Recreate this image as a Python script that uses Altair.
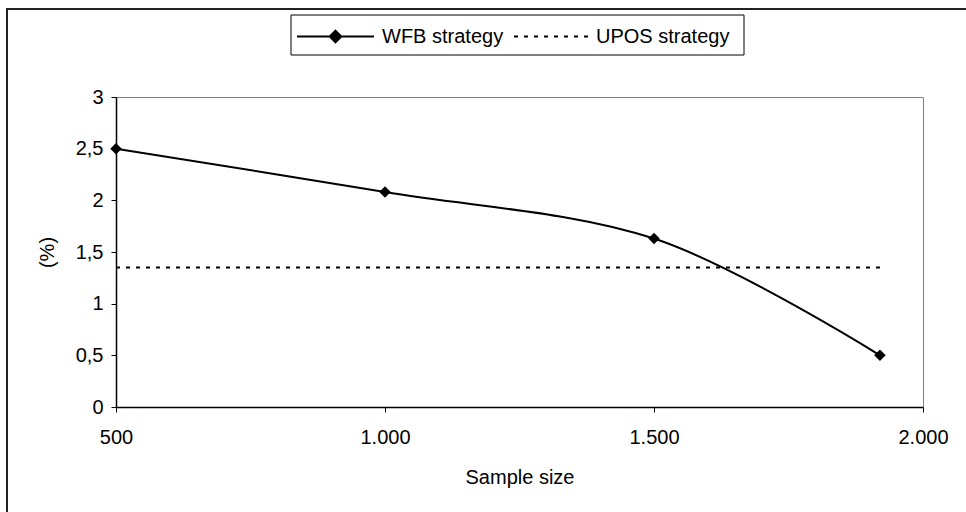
import altair as alt
import pandas as pd

# WFB strategy: error (%) against sample size
sample_size = [500, 1000, 1500, 1920]
wfb_pct = [2.5, 2.08, 1.63, 0.5]

# UPOS strategy: constant reference level over the same range
upos_size = [500, 1920]
upos_pct = [1.35, 1.35]

series_names = ["WFB strategy", "UPOS strategy"]
x_ticks = [500, 1000, 1500, 2000]
y_ticks = [0, 0.5, 1, 1.5, 2, 2.5, 3]

FONT = "Liberation Sans"
PLOT_W, PLOT_H = 807, 310
LINE_SYMBOL = 5929  # legend symbol area: sqrt gives the sample-line length
DOTTED = [4, 6]

wfb = pd.DataFrame({"size": sample_size, "pct": wfb_pct, "series": series_names[0]})
upos = pd.DataFrame({"size": upos_size, "pct": upos_pct, "series": series_names[1]})

x_enc = alt.X(
    "size:Q",
    scale=alt.Scale(domain=[500, 2000], nice=False, zero=False),
    axis=alt.Axis(
        values=x_ticks,
        title="Sample size",
        grid=False,
        labelExpr="replace(format(datum.value, ','), ',', '.')",
        labelFlush=False,
        labelOverlap=False,
        tickSize=5,
        labelPadding=15,
        titlePadding=20,
    ),
)
y_enc = alt.Y(
    "pct:Q",
    scale=alt.Scale(domain=[0, 3], nice=False),
    axis=alt.Axis(
        values=y_ticks,
        title="(%)",
        grid=False,
        labelExpr="replace(format(datum.value, '.1~f'), '.', ',')",
        tickSize=5,
        labelPadding=8,
        titlePadding=18,
    ),
)

legend_common = dict(
    title=None,
    orient="none",
    direction="horizontal",
    symbolSize=LINE_SYMBOL,
    symbolStrokeWidth=2,
    symbolStrokeColor="black",
    labelFontSize=20,
    labelFont=FONT,
    labelColor="black",
    padding=0,
    legendY=-100,
)

# outer frame around the whole figure
frame = (
    alt.Chart(pd.DataFrame({"k": [0]}))
    .mark_rect(fillOpacity=0, stroke="#222222", strokeWidth=2)
    .encode(x=alt.value(-109), x2=alt.value(1000), y=alt.value(-88), y2=alt.value(600))
)

# box that holds both legend entries
legend_box = (
    alt.Chart(pd.DataFrame({"k": [0]}))
    .mark_rect(fill="white", stroke="black", strokeWidth=1)
    .encode(x=alt.value(175), x2=alt.value(628), y=alt.value(-82), y2=alt.value(-42))
)

wfb_line = (
    alt.Chart(wfb)
    .mark_line(strokeWidth=2, interpolate="cardinal", color="black")
    .encode(
        x=x_enc,
        y=y_enc,
        stroke=alt.Stroke(
            "series:N",
            scale=alt.Scale(domain=[series_names[0]], range=["black"]),
            legend=alt.Legend(
                legendX=180,
                labelOffset=7,
                symbolType="M-1,0H1M0,-0.15L0.15,0L0,0.15L-0.15,0Z",
                symbolFillColor="black",
                **legend_common,
            ),
        ),
    )
)

upos_line = (
    alt.Chart(upos)
    .mark_line(strokeWidth=2, color="black")
    .encode(
        x="size:Q",
        y="pct:Q",
        strokeDash=alt.StrokeDash(
            "series:N",
            scale=alt.Scale(domain=[series_names[1]], range=[DOTTED]),
            legend=alt.Legend(
                legendX=397,
                labelOffset=4,
                symbolType="M-1,0H1",
                **legend_common,
            ),
        ),
    )
)

points = (
    alt.Chart(wfb)
    .mark_point(shape="diamond", filled=True, size=132, color="black", opacity=1)
    .encode(x="size:Q", y="pct:Q")
)

chart = (
    alt.layer(frame, legend_box, wfb_line, upos_line, points)
    .resolve_legend(stroke="independent", strokeDash="independent")
    .properties(
        width=PLOT_W,
        height=PLOT_H,
        autosize=alt.AutoSizeParams(type="none"),
        padding={"left": 116, "top": 97, "right": 43, "bottom": 105},
        background="white",
    )
    .configure_view(stroke="#808080", strokeWidth=1)
    .configure_axis(
        domainColor="black",
        domainWidth=1.5,
        tickColor="black",
        tickWidth=1,
        labelFont=FONT,
        labelFontSize=20,
        labelColor="black",
        titleFont=FONT,
        titleFontSize=20,
        titleFontWeight="normal",
        titleColor="black",
    )
)

chart.save("out.html", embed_options={"renderer": "svg", "actions": False})
